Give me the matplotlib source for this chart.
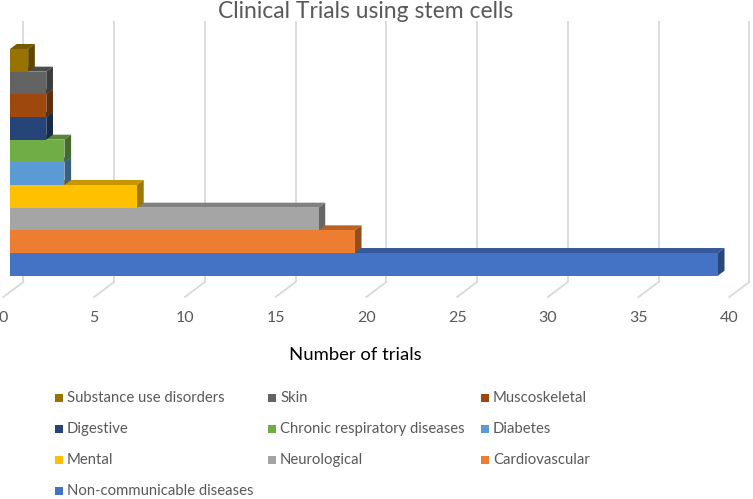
import matplotlib
matplotlib.use("Agg")
import matplotlib.pyplot as plt
from matplotlib.patches import Polygon, Rectangle
import matplotlib.colors as mcolors
import numpy as np

# ---- data ----
categories = ["Non-communicable diseases", "Cardiovascular", "Neurological", "Mental",
              "Diabetes", "Chronic respiratory diseases", "Digestive", "Muscoskeletal",
              "Skin", "Substance use disorders"]
values = [39, 19, 17, 7, 3, 3, 2, 2, 2, 1]
colors = ["#4472C4", "#ED7D31", "#A5A5A5", "#FFC000", "#5B9BD5", "#70AD47",
          "#264478", "#9E480E", "#636363", "#997300"]
xticks = [0, 5, 10, 15, 20, 25, 30, 35, 40]
title = "Clinical Trials using stem cells"
xlabel = "Number of trials"

FONT = "Lato"
W, H = 753, 499
fig = plt.figure(figsize=(W / 100, H / 100), dpi=100)
ax = fig.add_axes([0, 0, 1, 1])

# pixel geometry of the value / category scales
S = 18.15      # px per unit of value
X0 = 10.0      # px of value 0 on the bars' front plane
P = 22.67      # px per category
Y0 = 264.35    # px of category 0 centre
ax.set_xlim((0 - X0) / S, (W - X0) / S)
ax.set_ylim((Y0 - H) / P, Y0 / P)
ax.axis("off")

def cx(px):
    return (px - X0) / S

def cy(py):
    return (Y0 - py) / P

ox = 6.67 / S   # depth offset in value units
oy = 5.0 / P    # depth offset in category units

def shade(c, f):
    r, g, b = mcolors.to_rgb(c)
    return (r * f, g * f, b * f)

grid_c = "#D9D9D9"
# back-wall gridlines and floor lines
for t in xticks:
    xb = t + 2 * ox
    ax.plot([xb, xb], [cy(282), cy(21)], color=grid_c, lw=1.3, zorder=1, solid_capstyle="butt")
    ax.plot([xb, t - ox], [cy(282), cy(297)], color=grid_c, lw=1.3, zorder=1)
    ax.text(t - ox, cy(318), str(t), ha="center", va="center", fontsize=11.5,
            color="#595959", family=FONT)

# 3D bars, bottom first
z = 2
for i, (v, c) in enumerate(zip(values, colors)):
    lo, hi = i - 0.5, i + 0.5
    top = Polygon([(0, hi), (v, hi), (v + ox, hi + oy), (ox, hi + oy)], closed=True,
                  facecolor=shade(c, 0.78), edgecolor="none", zorder=z)
    side = Polygon([(v, lo), (v, hi), (v + ox, hi + oy), (v + ox, lo + oy)], closed=True,
                   facecolor=shade(c, 0.62), edgecolor="none", zorder=z + 1)
    ax.add_patch(top)
    ax.add_patch(side)
    ax.barh(i, v, height=1.0, left=0, color=c, edgecolor="none", zorder=z + 2)
    z += 3

ax.text(cx(366), cy(18.3), title, ha="center", va="baseline", fontsize=16.5,
        color="#595959", family=FONT)
ax.text(cx(355), cy(360), xlabel, ha="center", va="baseline", fontsize=13.3,
        color="#000000", family=FONT)

# legend, row-major in reverse category order
leg_items = list(zip(categories, colors))[::-1]
col_x = [59, 272, 485]
row_y = [398, 429, 460, 491]
for k, (name, c) in enumerate(leg_items):
    r, col = divmod(k, 3)
    mx, my = col_x[col], row_y[r]
    ax.add_patch(Rectangle((cx(mx - 4), cy(my + 4)), 8 / S, 8 / P,
                           facecolor=c, edgecolor="none"))
    ax.text(cx(mx + 8), cy(my), name, ha="left", va="center", fontsize=10.7,
            color="#595959", family=FONT)

fig.savefig("out.png", dpi=100)
